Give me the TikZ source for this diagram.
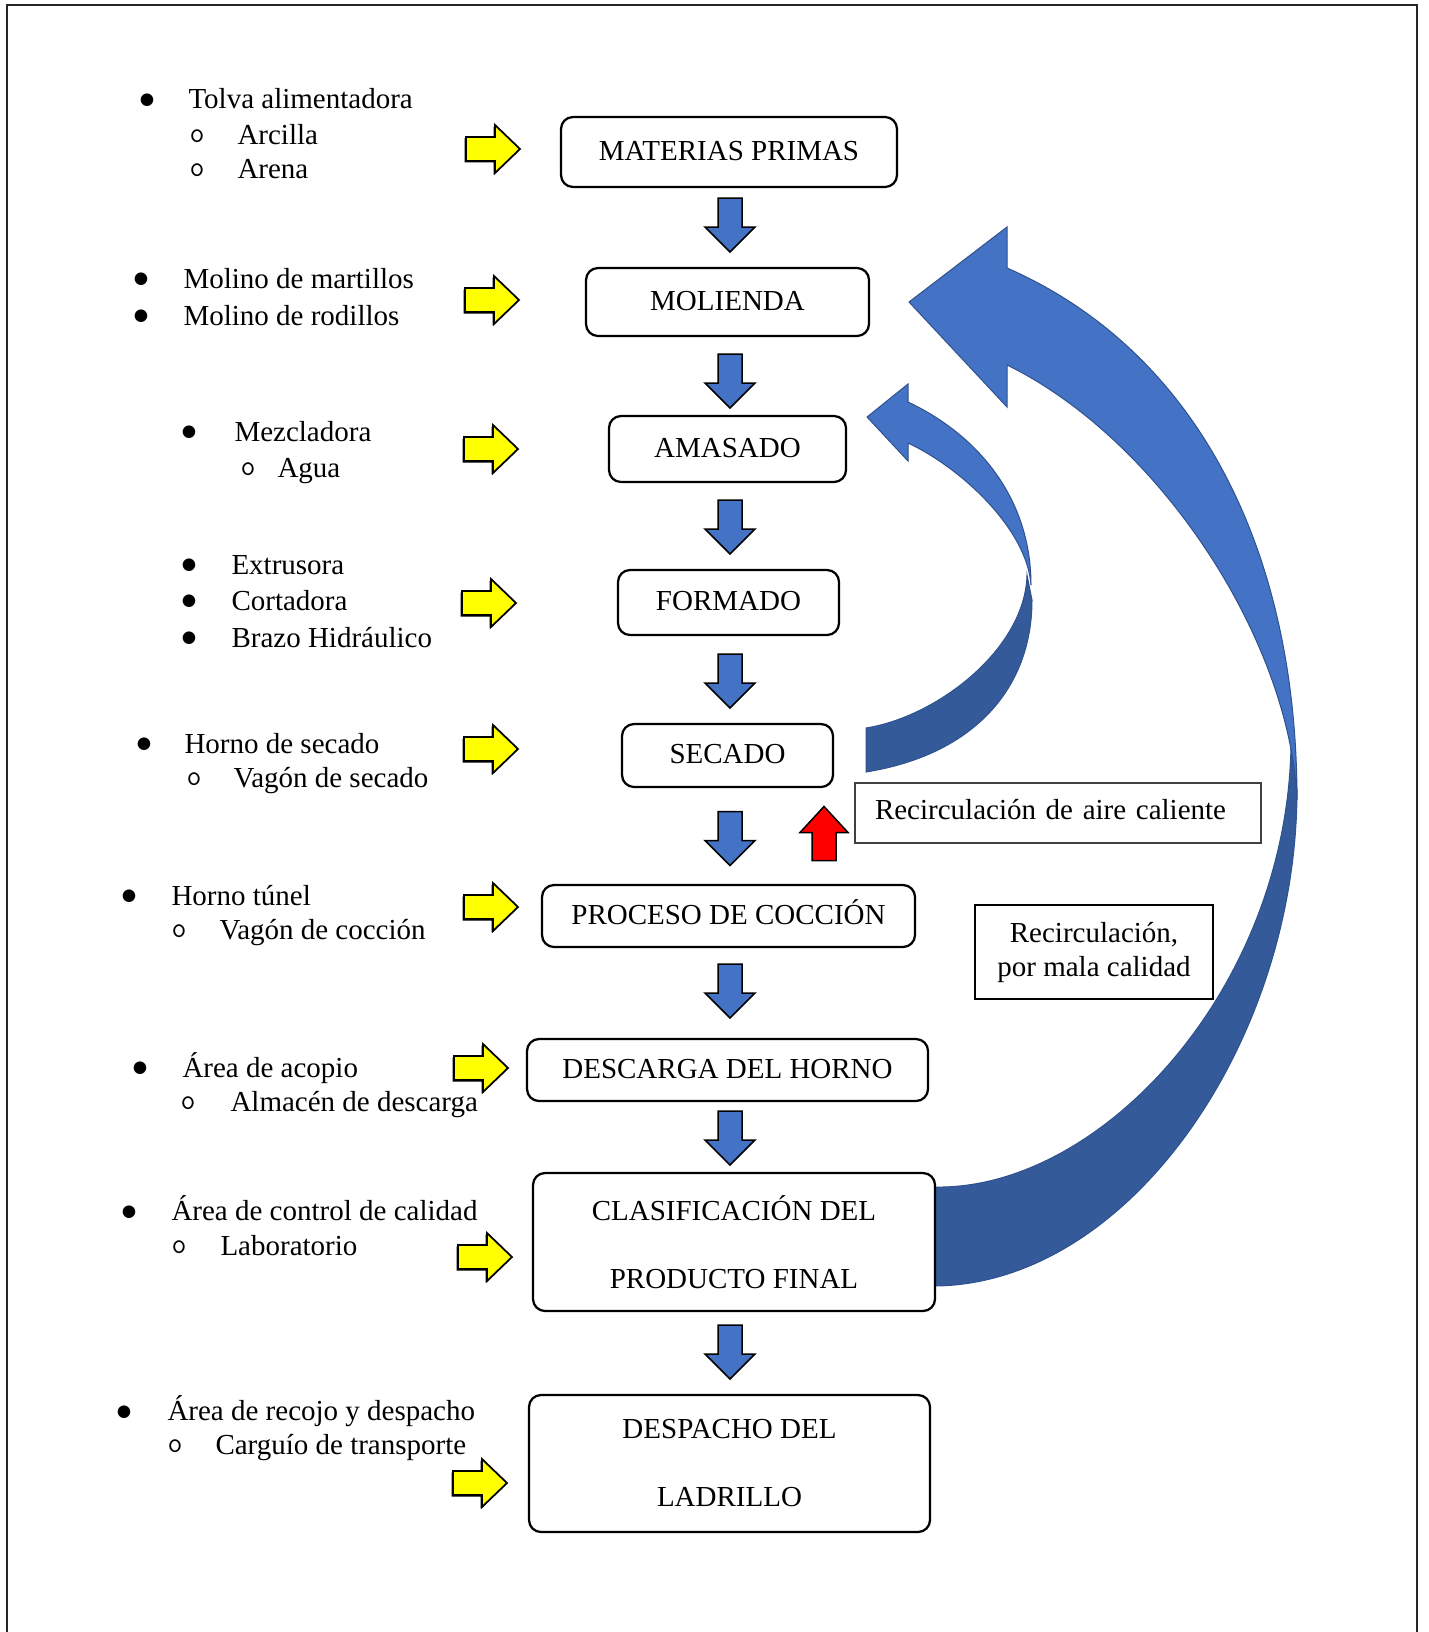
\documentclass[tikz,border=0pt]{standalone}
\usepackage{fontspec}
\setmainfont{Liberation Serif}
\newfontfamily\bulletfont{DejaVu Sans}
\usetikzlibrary{calc}
\definecolor{boxblue}{HTML}{4472C4}
\definecolor{backblue}{RGB}{53,90,153}
\definecolor{edgeblue}{HTML}{2F528F}
\definecolor{arrowyellow}{HTML}{FFFF00}
\definecolor{arrowred}{HTML}{FF0000}
\begin{document}
\begin{tikzpicture}[x=0.4pt,y=-0.4pt,
  every node/.style={font=\fontsize{11.6}{14}\selectfont},
  stepbox/.style={draw=black, line width=0.9pt, rounded corners=4.8pt, fill=white,
    inner sep=0pt, text height=7.7pt, text depth=1.2pt},
  twobox/.style={draw=black, line width=0.9pt, rounded corners=4.8pt, fill=white,
    inner sep=0pt, align=center, font=\fontsize{11.6}{27.2}\selectfont},
  ltext/.style={anchor=base west, inner sep=0pt},
  bul/.style={anchor=center, inner sep=0pt, font=\bulletfont\fontsize{6.6}{7}\selectfont},
  subbul/.style={anchor=base, inner sep=0pt, yshift=0.8pt, font=\ttfamily\fontsize{11.6}{14}\selectfont},
  frontband/.style={fill=boxblue, draw=edgeblue, line width=0.4pt, line join=miter},
  backband/.style={fill=backblue, draw=edgeblue, line width=0.4pt},
  downarrow/.pic={\draw[fill=boxblue, draw=black, line width=0.6pt, line join=miter]
    (-12,-27) -- (12,-27) -- (12,2) -- (25,2) -- (0,27) -- (-25,2) -- (-12,2) -- cycle;},
  uparrow/.pic={\draw[fill=arrowred, draw=black, line width=0.6pt, line join=miter]
    (-12,27) -- (12,27) -- (12,-1) -- (24,-1) -- (0,-27) -- (-24,-1) -- (-12,-1) -- cycle;},
  rightarrow/.pic={
    \fill[black] (-28.5,-10.5) -- (0.5,-10.5) -- (0.5,-22.5) -- (25.5,1.5) -- (0.5,25.5) -- (0.5,13.5) -- (-28.5,13.5) -- cycle;
    \draw[fill=arrowyellow, draw=black, line width=0.7pt, line join=miter]
    (-27,-12) -- (2,-12) -- (2,-24) -- (27,0) -- (2,24) -- (2,12) -- (-27,12) -- cycle;}
]
\useasboundingbox (0,0) rectangle (1428,1632);
\fill[white] (0,0) rectangle (1428,1632);

% frame
\draw[line width=0.8pt, black!85] (7,1632) -- (7,5) -- (1417,5) -- (1417,1632);

% big curved arrow (Recirculacion por mala calidad)
\path[backband] (935,1286) .. controls (1130,1284) and (1297,1040) .. (1297,790)
  -- (1291,745) .. controls (1287,990) and (1100,1190) .. (935,1187) -- cycle;
\path[frontband] (1007,268) .. controls (1190,348) and (1297,540) .. (1297,800)
  .. controls (1290,640) and (1160,440) .. (1007,365)
  -- (1007,407) -- (909,302) -- (1007,227) -- cycle;

% small curved arrow (Recirculacion de aire caliente)
\path[backband] (866,772) .. controls (972,755) and (1032,690) .. (1032,600)
  -- (1027,575) .. controls (1025,650) and (936,717) .. (866,728) -- cycle;
\path[frontband] (908,402) .. controls (980,436) and (1031,500) .. (1031,585)
  .. controls (1027,530) and (963,469) .. (908,443)
  -- (908,461) -- (867,417) -- (908,384) -- cycle;

% process boxes
\node[stepbox, minimum width=134.4pt, minimum height=28pt] (mp) at (729,152) {MATERIAS PRIMAS};
\node[stepbox, minimum width=113.2pt, minimum height=27.2pt] (mol) at (727.5,302) {MOLIENDA};
\node[stepbox, minimum width=94.8pt, minimum height=26.4pt] (ama) at (727.5,449) {AMASADO};
\node[stepbox, minimum width=88.4pt, minimum height=26pt] (for) at (728.5,602.5) {FORMADO};
\node[stepbox, minimum width=84.4pt, minimum height=25.2pt] (sec) at (727.5,755.5) {SECADO};
\node[stepbox, minimum width=149.2pt, minimum height=24.8pt] (coc) at (728.5,916) {PROCESO DE COCCIÓN};
\node[stepbox, minimum width=160.4pt, minimum height=24.8pt] (des) at (727.5,1070) {DESCARGA DEL HORNO};
\node[twobox, minimum width=160.8pt, minimum height=55.2pt] (cla) at (734,1242) {CLASIFICACIÓN DEL\\PRODUCTO FINAL};
\node[twobox, minimum width=160.4pt, minimum height=54.8pt] (dsp) at (729.5,1463.5) {DESPACHO DEL\\LADRILLO};

% labels
\node[draw=black!75, line width=0.5pt, fill=white, inner xsep=8pt, inner ysep=0pt,
  text width=146.4pt, align=left, minimum height=24pt, text height=7.7pt, text depth=2.9pt]
  (rac) at (1058,813) {Recirculación de aire caliente};
\node[draw=black, line width=0.8pt, fill=white, inner sep=0pt, align=center,
  minimum width=95.2pt, minimum height=37.6pt, font=\fontsize{11.6}{13.6}\selectfont]
  (rmc) at (1094,952) {Recirculación,\\por mala calidad};

% blue down arrows
\foreach \yy in {225,381,527,681,838.5,991,1138,1352} {
  \pic at (730,\yy) {downarrow};
}
% red up arrow
\pic at (824,833.5) {uparrow};

% yellow arrows
\pic at (493,149) {rightarrow};
\pic at (492,300) {rightarrow};
\pic at (491,449) {rightarrow};
\pic at (489,603) {rightarrow};
\pic at (491,749) {rightarrow};
\pic at (491,907) {rightarrow};
\pic at (481,1068) {rightarrow};
\pic at (485,1257) {rightarrow};
\pic at (480,1483) {rightarrow};

% left lists
\node[bul] (b1a) at (147,100) {●};
\node[ltext] (t1a) at (188,109) {Tolva alimentadora};
\node[subbul] (b1b) at (197,144) {o};
\node[ltext] (t1b) at (237,144) {Arcilla};
\node[subbul] (b1c) at (197,178) {o};
\node[ltext] (t1c) at (237,178) {Arena};

\node[bul] (b2a) at (141,279) {●};
\node[ltext] (t2a) at (183,288) {Molino de martillos};
\node[bul] (b2b) at (141,316) {●};
\node[ltext] (t2b) at (183,325) {Molino de rodillos};

\node[bul] (b3a) at (189,432) {●};
\node[ltext] (t3a) at (234,441) {Mezcladora};
\node[subbul] (b3b) at (248,477) {o};
\node[ltext] (t3b) at (277,477) {Agua};

\node[bul] (b4a) at (189,565) {●};
\node[ltext] (t4a) at (231,574) {Extrusora};
\node[bul] (b4b) at (189,601) {●};
\node[ltext] (t4b) at (231,610) {Cortadora};
\node[bul] (b4c) at (189,638) {●};
\node[ltext] (t4c) at (231,647) {Brazo Hidráulico};

\node[bul] (b5a) at (144,744) {●};
\node[ltext] (t5a) at (184,753) {Horno de secado};
\node[subbul] (b5b) at (194,787) {o};
\node[ltext] (t5b) at (233,787) {Vagón de secado};

\node[bul] (b6a) at (129,896) {●};
\node[ltext] (t6a) at (171,905) {Horno túnel};
\node[subbul] (b6b) at (179,939) {o};
\node[ltext] (t6b) at (219,939) {Vagón de cocción};

\node[bul] (b7a) at (140,1068) {●};
\node[ltext] (t7a) at (182,1077) {Área de acopio};
\node[subbul] (b7b) at (188,1111) {o};
\node[ltext] (t7b) at (230,1111) {Almacén de descarga};

\node[bul] (b8a) at (129,1212) {●};
\node[ltext] (t8a) at (171,1220) {Área de control de calidad};
\node[subbul] (b8b) at (179,1255) {o};
\node[ltext] (t8b) at (220,1255) {Laboratorio};

\node[bul] (b9a) at (124,1412) {●};
\node[ltext] (t9a) at (167,1420) {Área de recojo y despacho};
\node[subbul] (b9b) at (175,1454) {o};
\node[ltext] (t9b) at (215,1454) {Carguío de transporte};
\end{tikzpicture}
\end{document}
